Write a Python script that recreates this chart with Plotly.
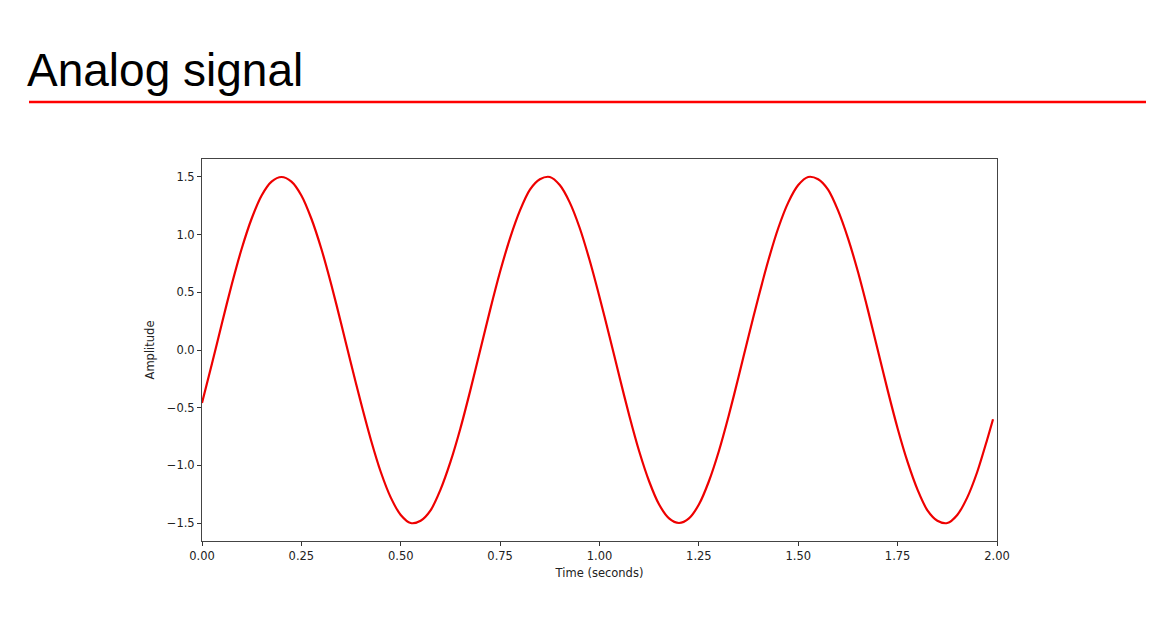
import plotly.graph_objects as go

# Values
time_s = [0.000, 0.025, 0.050, 0.075, 0.100, 0.125, 0.150, 0.175, 0.200, 0.225, 0.250,
          0.275, 0.300, 0.325, 0.350, 0.375, 0.400, 0.425, 0.450, 0.475, 0.500, 0.525,
          0.550, 0.575, 0.600, 0.625, 0.650, 0.675, 0.700, 0.725, 0.750, 0.775, 0.800,
          0.825, 0.850, 0.875, 0.900, 0.925, 0.950, 0.975, 1.000, 1.025, 1.050, 1.075,
          1.100, 1.125, 1.150, 1.175, 1.200, 1.225, 1.250, 1.275, 1.300, 1.325, 1.350,
          1.375, 1.400, 1.425, 1.450, 1.475, 1.500, 1.525, 1.550, 1.575, 1.600, 1.625,
          1.650, 1.675, 1.700, 1.725, 1.750, 1.775, 1.800, 1.825, 1.850, 1.875, 1.900,
          1.925, 1.950, 1.975, 1.990]
amplitude = [-0.46, -0.12, 0.23, 0.57, 0.88, 1.14, 1.34, 1.46, 1.50, 1.46, 1.34,
             1.14, 0.88, 0.57, 0.23, -0.12, -0.46, -0.78, -1.06, -1.28, -1.43, -1.50,
             -1.48, -1.39, -1.21, -0.97, -0.68, -0.35, 0.00, 0.35, 0.68, 0.97, 1.21,
             1.39, 1.48, 1.50, 1.43, 1.28, 1.06, 0.78, 0.46, 0.12, -0.23, -0.57,
             -0.88, -1.14, -1.34, -1.46, -1.50, -1.46, -1.34, -1.14, -0.88, -0.57, -0.23,
             0.12, 0.46, 0.78, 1.06, 1.28, 1.43, 1.50, 1.48, 1.39, 1.21, 0.97,
             0.68, 0.35, 0.00, -0.35, -0.68, -0.97, -1.21, -1.39, -1.48, -1.50, -1.43,
             -1.28, -1.06, -0.78, -0.60]

x_ticks = [0.00, 0.25, 0.50, 0.75, 1.00, 1.25, 1.50, 1.75, 2.00]
y_ticks = [-1.5, -1.0, -0.5, 0.0, 0.5, 1.0, 1.5]

W, H = 1154, 628
OFF = 8  # page body margin offset


def px_x(p):
    return (p - OFF) / W


def px_y(p):
    return 1 - (p - OFF) / H


fig = go.Figure()
fig.add_trace(go.Scatter(x=time_s, y=amplitude, mode="lines",
                         line=dict(color="#ee0000", width=2.2, shape="spline", smoothing=0.8),
                         showlegend=False, hoverinfo="skip"))

axis_common = dict(showgrid=False, zeroline=False, showline=True, mirror=True,
                   automargin=False,
                   linecolor="#444444", linewidth=1, ticks="outside", ticklen=4,
                   tickwidth=1, tickcolor="#333333",
                   tickfont=dict(family="DejaVu Sans", size=11.5, color="#222222"))

fig.update_layout(
    template="none",
    width=W, height=H,
    margin=dict(l=0, r=0, t=0, b=0, pad=0),
    paper_bgcolor="white", plot_bgcolor="white",
    showlegend=False,
    xaxis=dict(domain=[px_x(202), px_x(997)], range=[0, 2], tickvals=x_ticks,
               tickformat=".2f",
               title=dict(text="Time (seconds)", standoff=7,
                          font=dict(family="DejaVu Sans", size=11.5, color="#222222")),
               **axis_common),
    yaxis=dict(domain=[px_y(541), px_y(159)], range=[-1.656, 1.656], tickvals=y_ticks,
               tickformat=".1f",
               title=dict(text="Amplitude", standoff=9,
                          font=dict(family="DejaVu Sans", size=11.5, color="#222222")),
               **axis_common),
    font=dict(family="DejaVu Sans"),
)

fig.add_annotation(text="Analog signal", xref="paper", yref="paper",
                   x=px_x(25), y=px_y(70), xanchor="left", yanchor="middle",
                   showarrow=False,
                   font=dict(family="Liberation Sans", size=46, color="black"))

fig.add_shape(type="line", xref="paper", yref="paper",
              x0=px_x(29), x1=px_x(1146), y0=px_y(102), y1=px_y(102),
              line=dict(color="#ff0000", width=2.5))

fig.write_html("out.html")
